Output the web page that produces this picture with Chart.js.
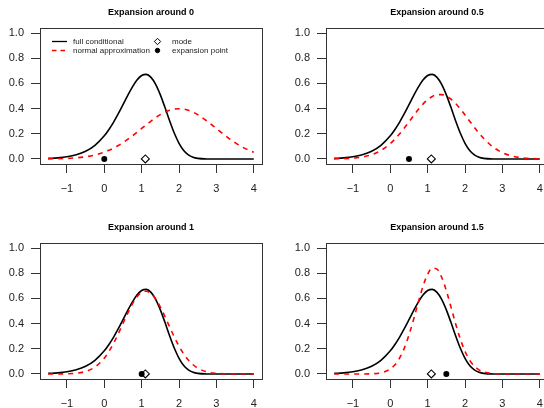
<!DOCTYPE html>
<html>
<head>
<meta charset="utf-8">
<script src="https://cdn.jsdelivr.net/npm/chart.js@4.4.1/dist/chart.umd.min.js"></script>
<style>
  html, body { margin: 0; padding: 0; background: #fff; }
  body { width: 544px; height: 408px; position: relative; overflow: hidden; }
  canvas { position: absolute; }
</style>
</head>
<body>
<canvas id="p1" width="272" height="204" style="left:0px;top:0px"></canvas>
<canvas id="p2" width="272" height="204" style="left:286px;top:0px"></canvas>
<canvas id="p3" width="272" height="204" style="left:0px;top:215px"></canvas>
<canvas id="p4" width="272" height="204" style="left:286px;top:215px"></canvas>
<script>
// x grid shared by all curves
const xValues = [-1.5, -1.25, -1, -0.75, -0.5, -0.25,
    0, 0.125, 0.25, 0.375, 0.5, 0.625, 0.75, 0.875,
    1, 1.125, 1.25, 1.375, 1.5, 1.625, 1.75, 1.875,
    2, 2.125, 2.25, 2.375, 2.5,
    2.75, 3, 3.25, 3.5, 3.75, 4];

// full conditional density (same in every panel)
const fullConditional = [0.0044, 0.0088, 0.0172, 0.0329, 0.0608, 0.1084,
    0.1839, 0.2343, 0.2931, 0.3595, 0.4309, 0.5034, 0.5711, 0.6269,
    0.6627, 0.6714, 0.6482, 0.5926, 0.5092, 0.4080, 0.3019, 0.2041,
    0.1247, 0.0678, 0.0324, 0.0133, 0.0046,
    0.0003, 0, 0, 0, 0, 0];

// normal approximations, one per expansion point
const approxAt0 = [0.0009, 0.0020, 0.0044, 0.0091, 0.0175, 0.0317,
    0.0540, 0.0688, 0.0863, 0.1066, 0.1295, 0.1550, 0.1827, 0.2119,
    0.2420, 0.2721, 0.3011, 0.3282, 0.3521, 0.3719, 0.3867, 0.3958,
    0.3989, 0.3958, 0.3867, 0.3719, 0.3521,
    0.3011, 0.2420, 0.1827, 0.1295, 0.0863, 0.0540];

const approxAt05 = [0.0007, 0.0022, 0.0061, 0.0150, 0.0334, 0.0672,
    0.1219, 0.1580, 0.1995, 0.2455, 0.2945, 0.3442, 0.3921, 0.4352,
    0.4709, 0.4965, 0.5102, 0.5110, 0.4987, 0.4743, 0.4397, 0.3972,
    0.3498, 0.3001, 0.2509, 0.2045, 0.1624,
    0.0948, 0.0500, 0.0237, 0.0102, 0.0039, 0.0014];

const approxAt1 = [0.0001, 0.0004, 0.0016, 0.0062, 0.0200, 0.0545,
    0.1256, 0.1790, 0.2443, 0.3197, 0.4009, 0.4818, 0.5549, 0.6126,
    0.6482, 0.6573, 0.6389, 0.5951, 0.5313, 0.4546, 0.3728, 0.2930,
    0.2207, 0.1593, 0.1102, 0.0731, 0.0465,
    0.0165, 0.0050, 0.0013, 0.0003, 0.0001, 0];

const approxAt15 = [0, 0, 0, 0.0002, 0.0016, 0.0092,
    0.0394, 0.0733, 0.1271, 0.2054, 0.3094, 0.4348, 0.5695, 0.6955,
    0.7920, 0.8408, 0.8324, 0.7682, 0.6611, 0.5304, 0.3968, 0.2768,
    0.1800, 0.1091, 0.0617, 0.0325, 0.0160,
    0.0031, 0.0005, 0.0001, 0, 0, 0];

const expansionPoints = [0, 0.5, 1, 1.5];
const modeX = 1.0986;
const panelTitles = ['Expansion around 0', 'Expansion around 0.5', 'Expansion around 1', 'Expansion around 1.5'];
const xTicks = [-1, 0, 1, 2, 3, 4];
const yTicks = [0, 0.2, 0.4, 0.6, 0.8, 1.0];

const FONT = '"Liberation Sans", Arial, Helvetica, sans-serif';

// R style box round the plot region
const boxPlugin = {
    id: 'box',
    afterDatasetsDraw(chart) {
        const { ctx, chartArea: a } = chart;
        ctx.save();
        ctx.strokeStyle = '#333';
        ctx.lineWidth = 1;
        ctx.strokeRect(Math.round(a.left) + 0.5, Math.round(a.top) + 0.5,
            Math.round(a.right - a.left), Math.round(a.bottom - a.top));
        ctx.restore();
    }
};

// two-column legend inside the first panel
const insideLegend = {
    id: 'insideLegend',
    afterDraw(chart) {
        const { ctx, chartArea: a } = chart;
        const ds = chart.data.datasets;
        const rows = [a.top + 13.5, a.top + 22.5];
        ctx.save();
        ctx.font = '8px ' + FONT;
        ctx.textBaseline = 'middle';
        [ds[0], ds[1]].forEach((d, i) => {
            ctx.strokeStyle = d.borderColor;
            ctx.lineWidth = 1.3;
            ctx.setLineDash(d.borderDash ? [4.5, 4] : []);
            ctx.beginPath();
            ctx.moveTo(a.left + 12, rows[i]);
            ctx.lineTo(a.left + 27, rows[i]);
            ctx.stroke();
            ctx.setLineDash([]);
            ctx.fillStyle = '#222';
            ctx.fillText(d.label, a.left + 33, rows[i]);
        });
        [ds[2], ds[3]].forEach((d, i) => {
            ctx.fillStyle = d.pointBackgroundColor;
            ctx.strokeStyle = d.pointBorderColor;
            ctx.lineWidth = 1;
            Chart.helpers.drawPoint(ctx, { pointStyle: d.pointStyle, radius: d.pointRadius - 0.8, borderWidth: 1, rotation: 0 },
                a.left + 117.5, rows[i]);
            ctx.fillStyle = '#222';
            ctx.fillText(d.label, a.left + 132, rows[i]);
        });
        ctx.restore();
    }
};

const toPoints = (ys) => xValues.map((x, i) => ({ x: x, y: ys[i] }));

const makePanel = (canvasId, title, expansion, approx, withLegend) => {
    const ctx = document.getElementById(canvasId).getContext('2d');
    return new Chart(ctx, {
        type: 'line',
        data: {
            datasets: [{
                label: 'full conditional',
                data: toPoints(fullConditional),
                borderColor: '#000',
                borderWidth: 1.6,
                pointRadius: 0,
                cubicInterpolationMode: 'monotone',
                order: 3
            }, {
                label: 'normal approximation',
                data: toPoints(approx),
                borderColor: '#ff0000',
                borderWidth: 1.6,
                borderDash: [5, 5],
                pointRadius: 0,
                cubicInterpolationMode: 'monotone',
                order: 2
            }, {
                label: 'mode',
                data: [{ x: modeX, y: 0 }],
                showLine: false,
                pointStyle: 'rectRot',
                pointRadius: 4,
                pointBorderWidth: 1.1,
                pointBorderColor: '#000',
                pointBackgroundColor: 'rgba(255,255,255,0)',
                order: 1
            }, {
                label: 'expansion point',
                data: [{ x: expansion, y: 0 }],
                showLine: false,
                pointStyle: 'circle',
                pointRadius: 3,
                pointBorderWidth: 0,
                pointBorderColor: '#000',
                pointBackgroundColor: '#000',
                order: 0
            }]
        },
        options: {
            responsive: false,
            animation: false,
            layout: { padding: { top: 0, right: 10, bottom: 0, left: 0 } },
            plugins: {
                legend: { display: false },
                tooltip: { enabled: false },
                title: {
                    display: true,
                    text: title,
                    fullSize: false,
                    color: '#000',
                    font: { family: FONT, size: 9, weight: 'bold' },
                    padding: { top: 7.6, bottom: 9.6 }
                }
            },
            scales: {
                x: {
                    type: 'linear',
                    position: 'bottom',
                    min: -1.72,
                    max: 4.22,
                    afterBuildTicks: (s) => { s.ticks = xTicks.map(v => ({ value: v })); },
                    afterFit: (s) => { s.height = 40; },
                    grid: { drawOnChartArea: false, drawTicks: true, tickLength: 9, color: '#333' },
                    border: { display: false },
                    ticks: {
                        autoSkip: false,
                        maxRotation: 0,
                        padding: 9,
                        color: '#222',
                        font: { family: FONT, size: 11 },
                        callback: (v) => v < 0 ? '\u2212' + Math.abs(v) : String(v)
                    }
                },
                y: {
                    type: 'linear',
                    min: -0.04,
                    max: 1.04,
                    afterBuildTicks: (s) => { s.ticks = yTicks.map(v => ({ value: v })); },
                    afterFit: (s) => { s.width = 40; },
                    grid: { drawOnChartArea: false, drawTicks: true, tickLength: 9, color: '#333' },
                    border: { display: false },
                    ticks: {
                        padding: 7,
                        color: '#222',
                        font: { family: FONT, size: 11 },
                        callback: (v) => Number(v).toFixed(1)
                    }
                }
            }
        },
        plugins: withLegend ? [boxPlugin, insideLegend] : [boxPlugin]
    });
};

makePanel('p1', panelTitles[0], expansionPoints[0], approxAt0, true);
makePanel('p2', panelTitles[1], expansionPoints[1], approxAt05, false);
makePanel('p3', panelTitles[2], expansionPoints[2], approxAt1, false);
makePanel('p4', panelTitles[3], expansionPoints[3], approxAt15, false);
</script>
</body>
</html>
